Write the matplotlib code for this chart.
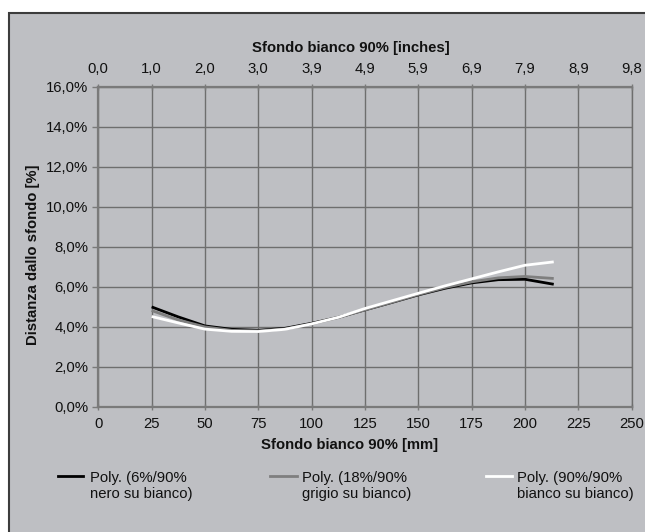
import numpy as np
import matplotlib
matplotlib.use("Agg")
import matplotlib.pyplot as plt
from matplotlib.patches import Rectangle
from matplotlib.lines import Line2D
from matplotlib.ticker import FuncFormatter

plt.rcParams['font.family'] = ['Liberation Sans', 'DejaVu Sans']

# --- data (trendline samples) ---
mm = [25, 37.5, 50, 62.5, 75, 87.5, 100, 112.5, 125, 137.5, 150, 162.5, 175, 187.5, 200, 213.5]
nero = [5.00, 4.50, 4.05, 3.88, 3.83, 3.93, 4.18, 4.48, 4.85, 5.22, 5.60, 5.93, 6.20, 6.36, 6.38, 6.13]
grigio = [4.82, 4.35, 4.00, 3.83, 3.80, 3.90, 4.15, 4.47, 4.85, 5.23, 5.62, 5.97, 6.25, 6.45, 6.52, 6.42]
bianco = [4.52, 4.20, 3.89, 3.78, 3.77, 3.88, 4.15, 4.48, 4.92, 5.30, 5.68, 6.05, 6.40, 6.75, 7.08, 7.25]

labels = ["Poly. (6%/90%\nnero su bianco)",
          "Poly. (18%/90%\ngrigio su bianco)",
          "Poly. (90%/90%\nbianco su bianco)"]
colors = ["#000000", "#7f7f7f", "#ffffff"]

mm_ticks = [0, 25, 50, 75, 100, 125, 150, 175, 200, 225, 250]
inch_labels = ["0,0", "1,0", "2,0", "3,0", "3,9", "4,9", "5,9", "6,9", "7,9", "8,9", "9,8"]
pct_ticks = [0, 2, 4, 6, 8, 10, 12, 14, 16]

bg = "#bebfc3"
fs = 10.7
W, H = 645, 532
fig = plt.figure(figsize=(W / 100, H / 100), dpi=100)
fig.patch.set_facecolor("white")

# grey panel with dark border (left/top visible)
fig.add_artist(Rectangle((9 / W, -0.02), 1.0, 1 - 13 / H + 0.02, transform=fig.transFigure,
                         facecolor=bg, edgecolor="#3c3c3c", linewidth=1.5, zorder=0))

ax = fig.add_axes([98.3 / W, 1 - 407 / H, (631.6 - 98.3) / W, (407 - 86.7) / H])
ax.set_facecolor("none")

for y, c, lab in zip([nero, grigio, bianco], colors, labels):
    ax.plot(mm, y, color=c, linewidth=2.0, solid_capstyle="butt", zorder=3)

ax.set_xlim(0, 250)
ax.set_ylim(0, 16)
ax.set_xticks(mm_ticks)
ax.set_yticks(pct_ticks)
ax.yaxis.set_major_formatter(FuncFormatter(lambda v, p: f"{v:.1f}%".replace(".", ",")))
ax.grid(True, color="#6e6e6e", linewidth=1.0, zorder=1)
ax.set_axisbelow(True)

gridc = "#7a7a7a"
for s in ["left", "bottom", "top"]:
    ax.spines[s].set_color(gridc)
    ax.spines[s].set_linewidth(1.6)
ax.spines["right"].set_color("#6e6e6e")
ax.spines["right"].set_linewidth(1.0)

ax.tick_params(axis="x", direction="inout", length=5, width=1, color=gridc,
               labelsize=fs, pad=4.5, labelcolor="#111111")
ax.tick_params(axis="y", direction="out", length=4, width=1, color=gridc,
               labelsize=fs, pad=3, labelcolor="#111111")

# top axis in inches
ax2 = ax.twiny()
ax2.set_xlim(ax.get_xlim())
ax2.set_xticks(mm_ticks)
ax2.set_xticklabels(inch_labels)
ax2.tick_params(axis="x", direction="inout", length=5, width=1, color=gridc,
                labelsize=fs, pad=5, labelcolor="#111111")
for s in ax2.spines.values():
    s.set_visible(False)

# axis titles
fig.text(350.5 / W, 1 - 48.3 / H, "Sfondo bianco 90% [inches]", ha="center", va="center",
         fontsize=fs, fontweight="bold", color="#111111")
fig.text(350 / W, 1 - 445 / H, "Sfondo bianco 90% [mm]", ha="center", va="center",
         fontsize=fs, fontweight="bold", color="#111111")
fig.text(33 / W, 1 - 255 / H, "Distanza dallo sfondo [%]", ha="center", va="center",
         rotation=90, fontsize=fs, fontweight="bold", color="#111111")

# legend
leg_x = [(58, 83, 90), (270, 297, 302), (486, 512, 517.3)]
for (x0, x1, xt), c, lab in zip(leg_x, colors, labels):
    fig.add_artist(Line2D([x0 / W, x1 / W], [1 - 475.7 / H] * 2, transform=fig.transFigure,
                          color=c, linewidth=2.0))
    fig.text(xt / W, 1 - 498.3 / H, lab, ha="left", va="baseline", fontsize=fs,
             color="#111111", linespacing=1.18)

fig.savefig("out.png", dpi=100, facecolor=fig.get_facecolor())
